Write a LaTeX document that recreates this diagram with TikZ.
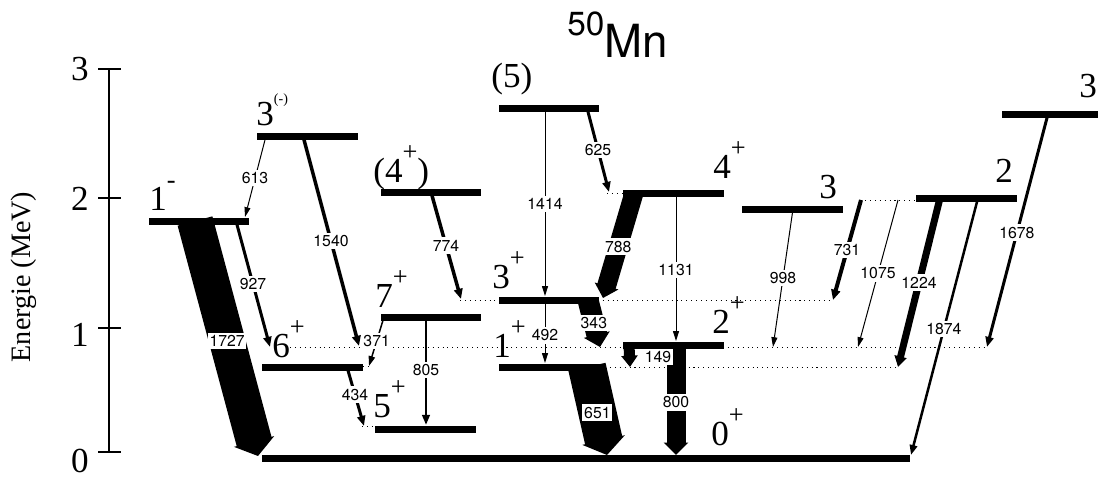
\documentclass[tikz,border=0pt]{standalone}
\usepackage{fontspec}
\setmainfont{Liberation Serif}
\newfontfamily\lblfont{TeX Gyre Heros}
\usepackage{graphicx}
\usetikzlibrary{arrows.meta, positioning}
\newcommand{\sps}[1]{\raisebox{12.5pt}{\fontsize{15}{15}\selectfont #1}}

\begin{document}
\begin{tikzpicture}[x=0.02cm, y=-0.02cm,
  lvl/.style={rectangle, fill=black, inner sep=0pt, minimum width=2.02cm,
              minimum height=0.14cm},
  spin/.style={anchor=base west, inner sep=0pt, font=\fontsize{20}{20}\selectfont},
  tick/.style={anchor=base, inner sep=0pt, font=\fontsize{20}{20}\selectfont},
  gam/.style={-{Triangle[width=2.8pt 1, length=5.5pt 0.15]}},
  en/.style={font=\lblfont\fontsize{9}{9}\selectfont, fill=white,
             inner xsep=1pt, inner ysep=1.5pt},
  refline/.style={line width=0.5pt, dash pattern=on 0.6pt off 2.2pt},
  axis/.style={line width=0.6pt}]
  \useasboundingbox (0,0) rectangle (1098,478);
  % title
  \node[anchor=base west, inner sep=0pt, font=\lblfont] (title) at (567,57)
    {{\fontsize{19}{19}\selectfont\raisebox{12.5pt}{50}}{\fontsize{26}{26}\selectfont Mn}};
  % energy axis
  \draw[axis] (109,69) -- (109,452);
  \foreach \y/\b/\t in {69/80/3, 198/210/2, 328/346/1, 452/472/0} {
    \draw[axis] (98,\y) -- (121,\y);
    \node[tick] (t\t) at (80,\b) {\t};
  }
  \node[rotate=90, anchor=base, inner sep=0pt, font=\fontsize{16}{16}\selectfont]
    (ylab) at (31,277) {Energie (MeV)};
  % dotted level lines
  \draw[refline] (290,347) -- (987,347);
  \draw[refline] (460,300) -- (833,300);
  \draw[refline] (600,367) -- (898,367);
  \draw[refline] (363,366) -- (370,366);
  \draw[refline] (362,426) -- (375,426);
  \draw[refline] (860,200) -- (916,200);
  \draw[refline] (607,193) -- (623,193);
  % transitions
  \foreach \e/\xa/\ya/\xb/\yb/\w/\p in {
      1727/195/221/258/456/0.72cm/0.51, 927/236/221/270/347/0.06cm/0.5,
      613/266/136/245/217/0.02cm/0.52, 1540/303/136/359/346/0.07cm/0.5,
      371/384/317/369/366/0.03cm/0.49, 434/347/367/364/426/0.06cm/0.47,
      774/431/192/461/299/0.07cm/0.5, 805/426/317/426/425/0.05cm/0.49,
      1414/545/108/545/296/0.02cm/0.51, 625/587/108/609/192/0.06cm/0.5,
      788/634/193/603/298/0.38cm/0.51, 1131/676/193/676/341/0.02cm/0.52,
      343/588/300/600/347/0.42cm/0.49, 492/545/300/545/363/0.02cm/0.56,
      651/587/367/607/455/0.76cm/0.52, 800/676/345/676/455/0.38cm/0.52,
      998/793/209/773/347/0.02cm/0.5, 731/861/200/833/300/0.08cm/0.5,
      1075/898/200/858/347/0.02cm/0.5, 1224/940/198/898/367/0.14cm/0.5,
      1874/978/198/911/455/0.05cm/0.51, 1678/1048/114/987/347/0.06cm/0.51} {
    \coordinate (a\e) at (\xa,\ya);
    \coordinate (b\e) at (\xb,\yb);
    \draw[gam, line width=\w] (a\e) -- node[en, pos=\p] {\e} (b\e);
  }
  \coordinate (a149) at (629,345);
  \coordinate (b149) at (630,367);
  \draw[gam, line width=0.22cm] (a149) -- node[en, pos=0.55, right=0.16cm] {149} (b149);
  % levels
  \node[lvl, minimum width=12.96cm] (g) at (586,458) {};
  \node[lvl] (l1m) at (199,221) {};
  \node[lvl] (l3m) at (307.5,136) {};
  \node[lvl] (l4x) at (431,192) {};
  \node[lvl] (l5x) at (549,108) {};
  \node[lvl] (l4p) at (673,193) {};
  \node[lvl] (l3b) at (792,209) {};
  \node[lvl] (l2) at (966.5,198) {};
  \node[lvl, minimum width=1.94cm] (l3c) at (1050,114) {};
  \node[lvl] (l7p) at (431,317) {};
  \node[lvl] (l3p) at (549,300) {};
  \node[lvl] (l1p) at (549,367) {};
  \node[lvl] (l2p) at (673.5,345) {};
  \node[lvl] (l6p) at (312.5,367) {};
  \node[lvl] (l5p) at (425.5,429.5) {};
  % spins
  \node[spin] (j1m) at (149,210) {1\sps{-}};
  \node[spin] (j3m) at (256,125) {3\raisebox{12.5pt}{\fontsize{8}{8}\selectfont(-)}};
  \node[spin] (j4x) at (373,182) {(4\sps{+})};
  \node[spin] (j5x) at (491,87) {(5)};
  \node[spin] (j4p) at (713,178) {4\sps{+}};
  \node[spin] (j3b) at (819,198) {3};
  \node[spin] (j2) at (995,182) {2};
  \node[spin] (j3c) at (1079,97) {3};
  \node[spin] (j7p) at (375,307) {7\sps{+}};
  \node[spin] (j3p) at (492,288) {3\sps{+}};
  \node[spin] (j1p) at (493,357) {1\sps{+}};
  \node[spin] (j2p) at (712,333) {2\sps{+}};
  \node[spin] (j6p) at (272,357) {6\sps{+}};
  \node[spin] (j5p) at (373,417) {5\sps{+}};
  \node[spin] (j0p) at (711,445) {0\sps{+}};
\end{tikzpicture}
\end{document}
